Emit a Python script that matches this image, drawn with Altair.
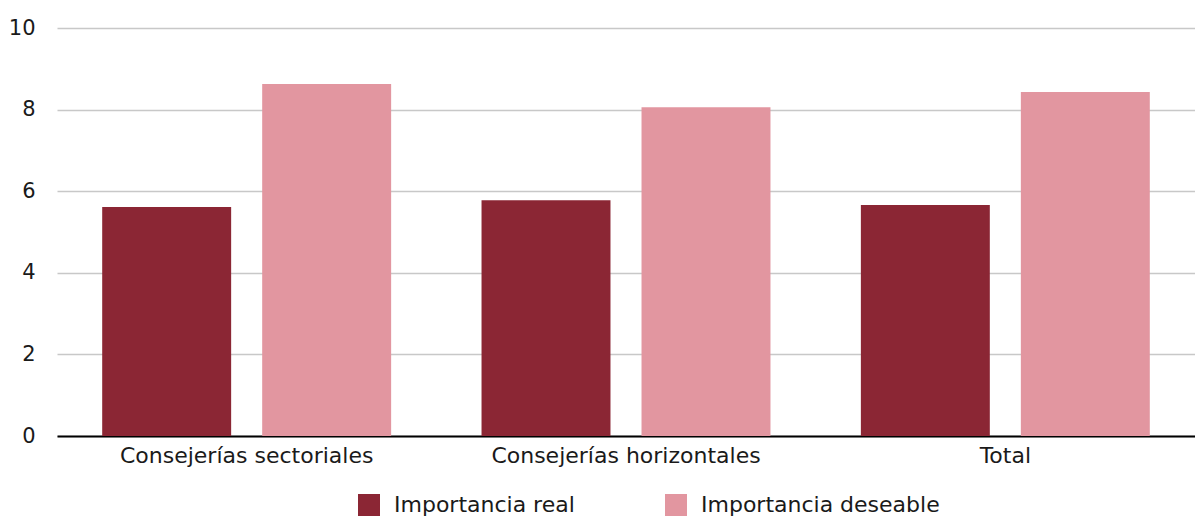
import altair as alt
import pandas as pd

categories = ["Consejerías sectoriales", "Consejerías horizontales", "Total"]
series = ["Importancia real", "Importancia deseable"]
real_values = [5.61, 5.78, 5.66]
deseable_values = [8.63, 8.06, 8.43]
colors = ["#8B2634", "#E296A0"]

rows = []
for c, r, d in zip(categories, real_values, deseable_values):
    rows.append({"categoria": c, "serie": series[0], "valor": r})
    rows.append({"categoria": c, "serie": series[1], "valor": d})
df = pd.DataFrame(rows)

FONT = "DejaVu Sans"

chart = alt.Chart(df).mark_bar().encode(
    x=alt.X("categoria:N", sort=categories, title=None,
            scale=alt.Scale(paddingInner=0, paddingOuter=0),
            axis=alt.Axis(labelAngle=0, labelFontSize=22, labelColor="#1a1a1a",
                          labelFont=FONT, ticks=False, domainColor="#000000",
                          domainWidth=2, labelPadding=9, labelLimit=500)),
    xOffset=alt.XOffset("serie:N", sort=series,
                        scale=alt.Scale(paddingInner=0.194, paddingOuter=0.2825)),
    y=alt.Y("valor:Q", title=None,
            scale=alt.Scale(domain=[0, 10]),
            axis=alt.Axis(values=[0, 2, 4, 6, 8, 10], labelFontSize=21,
                          labelColor="#1a1a1a", labelFont=FONT, ticks=False,
                          domain=False, gridColor="#c8c8c8", gridWidth=1.3,
                          labelPadding=22)),
    color=alt.Color("serie:N", sort=series,
                    scale=alt.Scale(domain=series, range=colors),
                    legend=alt.Legend(title=None, orient="none", direction="horizontal",
                                      legendX=301, legendY=466,
                                      symbolType="square", symbolSize=484,
                                      symbolStrokeWidth=0,
                                      labelFontSize=22, labelFont=FONT,
                                      labelColor="#1a1a1a", labelOffset=14,
                                      labelLimit=500,
                                      columnPadding=90, padding=0)),
).properties(
    width=1138, height=408,
    autosize=alt.AutoSizeParams(type="none"),
    padding={"left": 49, "top": 20, "right": 0, "bottom": 82},
).configure_view(stroke=None)

chart.save("out.html", embed_options={"renderer": "svg", "actions": False})
